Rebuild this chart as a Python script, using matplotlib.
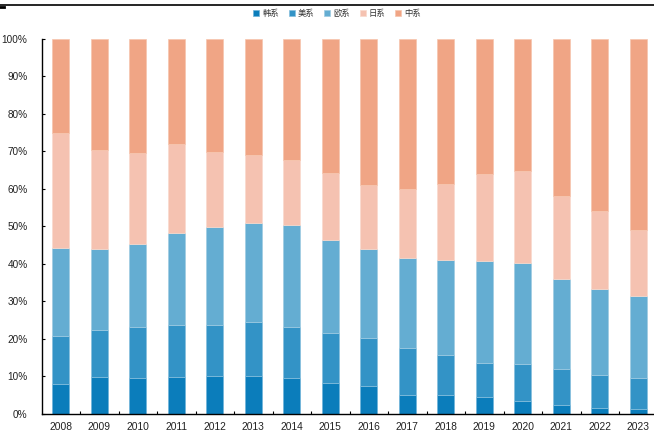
import matplotlib
matplotlib.use("Agg")
import matplotlib.pyplot as plt
from matplotlib.lines import Line2D
from matplotlib.ticker import FixedLocator, PercentFormatter
import numpy as np

plt.rcParams['font.family'] = ['Liberation Sans', 'Noto Sans CJK SC', 'DejaVu Sans']

years = ['2008', '2009', '2010', '2011', '2012', '2013', '2014', '2015',
         '2016', '2017', '2018', '2019', '2020', '2021', '2022', '2023']
series_names = ['韩系', '美系', '欧系', '日系', '中系']
korean = [7.9, 9.8, 9.5, 9.7, 10.1, 10.1, 9.5, 8.2, 7.4, 4.9, 4.9, 4.5, 3.3, 2.3, 1.4, 1.2]
american = [12.7, 12.4, 13.5, 13.9, 13.5, 14.2, 13.7, 13.2, 12.8, 12.7, 10.7, 9.0, 9.8, 9.6, 8.8, 8.3]
european = [23.5, 21.6, 22.3, 24.5, 26.1, 26.7, 27.1, 24.9, 23.7, 23.8, 25.4, 27.3, 27.2, 24.0, 23.0, 21.9]
japanese = [30.8, 26.6, 24.3, 23.9, 20.0, 18.0, 17.5, 17.9, 17.2, 18.5, 20.3, 23.2, 24.5, 22.3, 21.0, 17.7]
chinese = [25.1, 29.6, 30.4, 28.0, 30.3, 31.0, 32.2, 35.8, 38.9, 40.1, 38.7, 36.0, 35.2, 41.8, 45.8, 50.9]

colors = ['#0b7dbb', '#3393c6', '#64add2', '#f5c2b1', '#f0a585']
edge_colors = ['#6fb3da', '#86bfdd', '#9fcbe2', '#f9dacd', '#f6c5ae']

fig = plt.figure(figsize=(6.54, 4.32), dpi=100)
ax = fig.add_axes([41.5 / 654, 18.5 / 432, 616 / 654, 374.5 / 432])

x = np.arange(len(years))
bottom = np.zeros(len(years))
handles = []
for name, vals, c, ec in zip(series_names, [korean, american, european, japanese, chinese], colors, edge_colors):
    v = np.array(vals)
    b = ax.bar(x, v, 0.44, bottom=bottom, color=c, edgecolor=ec, linewidth=0.5, label=name)
    handles.append(b)
    bottom += v

ax.set_xlim(-0.5, len(years) - 0.5)
ax.set_ylim(0, 100)
ax.set_xticks(x)
ax.set_xticklabels(years, fontsize=7.4, color='#222222')
ax.xaxis.set_minor_locator(FixedLocator(np.arange(0.5, len(years) - 0.5, 1)))
ax.tick_params(axis='x', which='major', length=0, pad=6)
ax.tick_params(axis='x', which='minor', direction='in', length=2.5, width=0.8, color='black')
ax.set_yticks(np.arange(0, 101, 10))
ax.yaxis.set_major_formatter(PercentFormatter(decimals=0))
ax.tick_params(axis='y', direction='in', length=2.5, width=0.8, labelsize=7.2, labelcolor='#222222', pad=10)
for s in ['top', 'right']:
    ax.spines[s].set_visible(False)
for s in ['left', 'bottom']:
    ax.spines[s].set_linewidth(1.0)
    ax.spines[s].set_color('black')

leg = fig.legend(handles=handles, labels=series_names, loc='center',
                 bbox_to_anchor=(337 / 654, 1 - 13.3 / 432), ncol=5, frameon=False,
                 prop={'family': ['Noto Sans CJK SC'], 'size': 6},
                 handlelength=0.72, handleheight=0.72, handletextpad=0.36,
                 columnspacing=1.16, borderpad=0)
for t in leg.get_texts():
    t.set_color('#333333')

# header rule at top of page
fig.add_artist(Line2D([0, 1], [1 - 5.3 / 432, 1 - 5.3 / 432], transform=fig.transFigure,
                      color='black', linewidth=1.2))
fig.add_artist(Line2D([0, 3.5 / 654], [1 - 6.5 / 432, 1 - 6.5 / 432], transform=fig.transFigure,
                      color='black', linewidth=2.0))

fig.savefig('out.png', dpi=100)
